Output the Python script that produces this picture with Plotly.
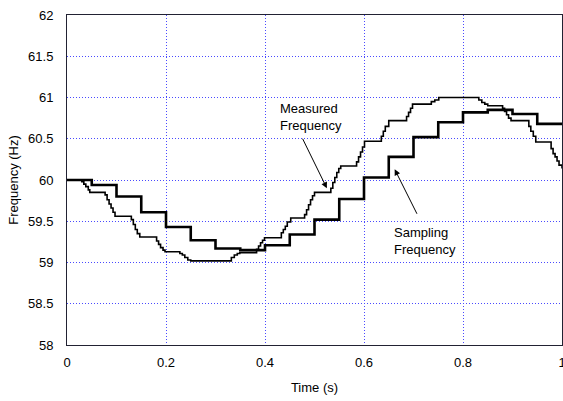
import plotly.graph_objects as go

# Sampling frequency (thick staircase), steps every 0.05 s
samp_t = [0.00, 0.05, 0.10, 0.15, 0.20, 0.25, 0.30, 0.35, 0.40, 0.45,
          0.50, 0.55, 0.60, 0.65, 0.70, 0.75, 0.80, 0.85, 0.90, 0.95, 1.00]
samp_f = [60.00, 59.94, 59.80, 59.61, 59.43, 59.27, 59.17, 59.15, 59.21, 59.34,
          59.52, 59.77, 60.03, 60.28, 60.52, 60.70, 60.82, 60.85, 60.80, 60.68, 60.68]

# Measured frequency (thin staircase)
meas_t = [0.000, 0.030, 0.034, 0.038, 0.043, 0.046,
          0.077, 0.081, 0.085, 0.089, 0.093, 0.097,
          0.130, 0.134, 0.138, 0.142, 0.147,
          0.181, 0.185, 0.189, 0.194, 0.198,
          0.228, 0.233, 0.238, 0.244, 0.250,
          0.332, 0.338, 0.344, 0.349,
          0.383, 0.387, 0.391, 0.395, 0.399,
          0.433, 0.437, 0.441, 0.445, 0.452,
          0.480, 0.484, 0.488, 0.492, 0.496, 0.500,
          0.533, 0.537, 0.541, 0.545, 0.549, 0.553,
          0.585, 0.589, 0.593, 0.597, 0.601,
          0.635, 0.639, 0.643, 0.650,
          0.686, 0.690, 0.694, 0.698,
          0.736, 0.743, 0.751,
          0.832, 0.838, 0.844, 0.850,
          0.880, 0.884, 0.888, 0.892, 0.897,
          0.933, 0.937, 0.942, 0.947,
          0.978, 0.982, 0.986, 0.990, 0.994, 1.000]
meas_f = [60.00, 59.98, 59.95, 59.92, 59.88, 59.85,
          59.82, 59.76, 59.71, 59.66, 59.61, 59.56,
          59.52, 59.46, 59.40, 59.35, 59.31,
          59.26, 59.22, 59.18, 59.15, 59.13,
          59.11, 59.09, 59.06, 59.03, 59.02,
          59.06, 59.09, 59.11, 59.12,
          59.16, 59.20, 59.24, 59.27, 59.30,
          59.36, 59.40, 59.44, 59.49, 59.54,
          59.58, 59.64, 59.70, 59.76, 59.81, 59.85,
          59.90, 59.97, 60.03, 60.09, 60.14, 60.17,
          60.22, 60.28, 60.34, 60.40, 60.47,
          60.53, 60.59, 60.65, 60.72,
          60.77, 60.82, 60.87, 60.92,
          60.95, 60.97, 61.00,
          60.97, 60.94, 60.92, 60.90,
          60.87, 60.83, 60.79, 60.75, 60.72,
          60.65, 60.59, 60.53, 60.46,
          60.38, 60.32, 60.28, 60.23, 60.18, 60.14]

x_ticks = [0, 0.2, 0.4, 0.6, 0.8, 1]
x_tick_text = ["0", "0.2", "0.4", "0.6", "0.8", "1"]
y_ticks = [58, 58.5, 59, 59.5, 60, 60.5, 61, 61.5, 62]
y_tick_text = ["58", "58.5", "59", "59.5", "60", "60.5", "61", "61.5", "62"]

FONT = "Liberation Sans, Arial, sans-serif"
FS = 13

fig = go.Figure()
fig.add_trace(go.Scatter(x=meas_t, y=meas_f, mode="lines", line_shape="hv",
                         line=dict(color="black", width=1.6), name="Measured Frequency"))
fig.add_trace(go.Scatter(x=samp_t, y=samp_f, mode="lines", line_shape="hv",
                         line=dict(color="black", width=2.6), name="Sampling Frequency"))

fig.add_annotation(x=0.426, y=60.76, xref="x", yref="y", xanchor="left",
                   text="Measured<br>Frequency",
                   showarrow=False, font=dict(family=FONT, size=FS, color="black"), align="left")
fig.add_annotation(x=0.525, y=59.90, xref="x", yref="y", ax=-25, ay=-51, text="",
                   showarrow=True, arrowhead=2, arrowsize=1.2, arrowwidth=1, arrowcolor="black")
fig.add_annotation(x=0.657, y=59.26, xref="x", yref="y", xanchor="left",
                   text="Sampling<br>Frequency",
                   showarrow=False, font=dict(family=FONT, size=FS, color="black"), align="left")
fig.add_annotation(x=0.662, y=60.13, xref="x", yref="y", ax=23, ay=46, text="",
                   showarrow=True, arrowhead=2, arrowsize=1.2, arrowwidth=1, arrowcolor="black")

axis_common = dict(showline=True, linecolor="#222233", linewidth=1, mirror=True,
                   showgrid=True, gridcolor="#4a4aff", gridwidth=1, griddash="1px,2px",
                   zeroline=False, ticks="", automargin=False,
                   tickfont=dict(family=FONT, size=FS, color="black"))

fig.update_xaxes(range=[0, 1], tickvals=x_ticks, ticktext=x_tick_text,
                 ticklabeloverflow="allow", ticklabelstandoff=5,
                 title=dict(text="Time (s)", font=dict(family=FONT, size=FS, color="black"), standoff=14),
                 **axis_common)
fig.update_yaxes(range=[58, 62], tickvals=y_ticks, ticktext=y_tick_text,
                 ticklabelstandoff=10,
                 title=dict(text="Frequency (Hz)", font=dict(family=FONT, size=FS, color="black"), standoff=6),
                 **axis_common)

fig.update_layout(width=563, height=401, showlegend=False,
                  margin=dict(l=67, r=1, t=15, b=56, autoexpand=False),
                  paper_bgcolor="white", plot_bgcolor="white",
                  font=dict(family=FONT, size=FS, color="black"))

fig.write_html("out.html")
